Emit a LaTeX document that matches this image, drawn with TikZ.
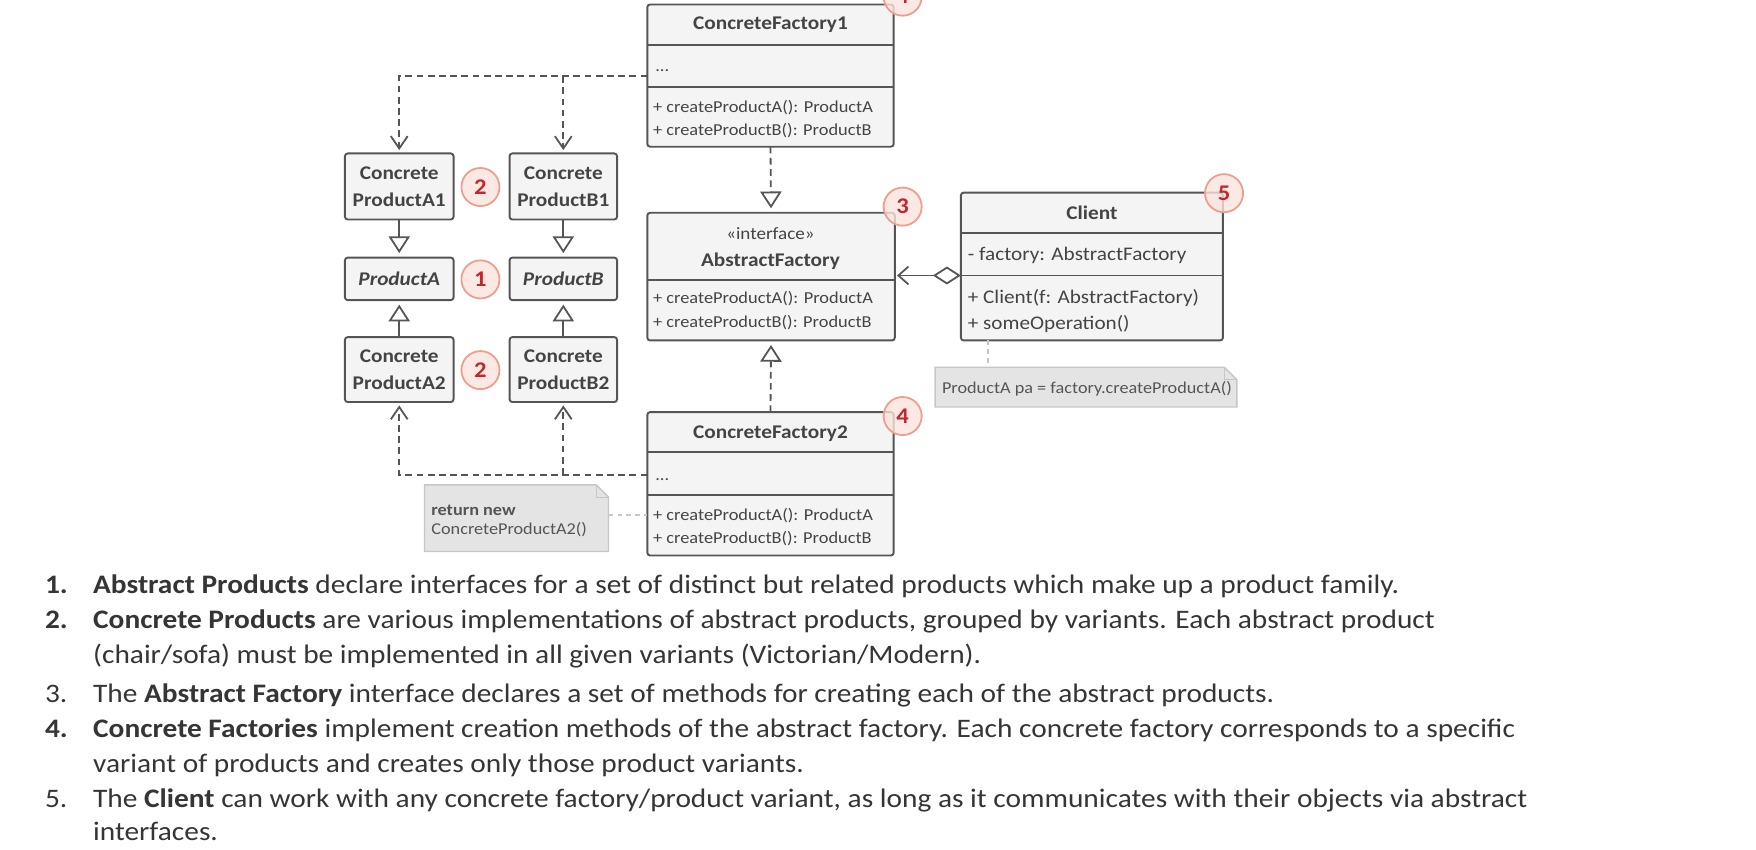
\documentclass[tikz,border=0pt]{standalone}
\usepackage{fontspec}
\setmainfont{Carlito}[FakeStretch=1.1]
\usetikzlibrary{arrows.meta}
\definecolor{boxline}{HTML}{555555}
\definecolor{boxfill}{HTML}{F4F4F4}
\definecolor{txt}{HTML}{444444}
\definecolor{listtxt}{HTML}{353535}
\definecolor{notefill}{HTML}{E4E4E4}
\definecolor{noteline}{HTML}{C6C6C6}
\definecolor{notetxt}{HTML}{555555}
\definecolor{badgefill}{HTML}{FBE3DC}
\definecolor{badgeline}{HTML}{EBA08F}
\definecolor{badgetxt}{HTML}{C0282D}
\begin{document}
\begin{tikzpicture}[x=1pt,y=-1pt,
  box/.style={draw=boxline, fill=boxfill, line width=1.7pt, rounded corners=2.5pt, inner sep=0pt, outer sep=0pt, anchor=north west, text=txt},
  sep/.style={draw=boxline, line width=1.7pt},
  ttl/.style={font=\fontsize{17.3}{24}\selectfont\bfseries, text=txt, inner sep=0pt},
  sub/.style={font=\fontsize{15.5}{18}\selectfont, text=txt, inner sep=0pt},
  mem/.style={font=\fontsize{14.9}{17}\selectfont, text=txt, inner sep=0pt, anchor=west},
  cmem/.style={mem, font=\fontsize{17.2}{19}\selectfont},
  badge/.style={circle, draw=badgeline, fill=badgefill, fill opacity=0.8, text opacity=1, line width=1.6pt, minimum size=34pt, inner sep=0pt, text=badgetxt, font=\fontsize{20}{20}\selectfont\bfseries},
  dep/.style={draw=boxline, line width=1.6pt, dash pattern=on 6pt off 4pt, shorten >=3pt, -{Straight Barb[length=11pt,width=15pt]}},
  inh/.style={draw=boxline, line width=1.6pt, shorten >=4pt, -{Triangle[open,length=15pt,width=19pt]}},
  impl/.style={inh, dash pattern=on 6pt off 4pt},
  agg/.style={draw=boxline, line width=1.6pt, {Diamond[open,length=25pt,width=16pt]}-{Straight Barb[length=9pt,width=16pt]}, shorten >=2pt},
  notebox/.style={draw=noteline, fill=notefill, line width=1.2pt},
  notelink/.style={draw=noteline, line width=1.5pt, dash pattern=on 4pt off 4pt},
  notetext/.style={font=\fontsize{14.8}{17}\selectfont, text=notetxt, inner sep=0pt, anchor=west},
  ltxt/.style={font=\fontsize{23.85}{28}\selectfont, text=listtxt, inner sep=0pt, anchor=mid west},
  lnum/.style={ltxt},
  bnum/.style={ltxt, font=\fontsize{23.85}{28}\selectfont\bfseries}
]
\useasboundingbox (0,0) rectangle (1568,759);

% ---------------- ConcreteFactory1
\node[box, minimum width=220pt, minimum height=127pt] (cf1) at (578,4) {};
\draw[sep] (cf1.west |- 0,40) -- (cf1.east |- 0,40);
\draw[sep] (cf1.west |- 0,78) -- (cf1.east |- 0,78);
\node[ttl] (cf1t) at (688,22) {ConcreteFactory1};
\node[mem, anchor=base west] (cf1dots) at (585,64) {...};
\node[mem] (cf1m1) at (583,96) {+ createProductA(): ProductA};
\node[mem] (cf1m2) at (583,117) {+ createProductB(): ProductB};
\coordinate (cf1d) at (578,68);

% ---------------- products
\node[box, ttl, align=center, minimum width=97pt, minimum height=59pt] (cpa1) at (308,137) {Concrete\\ProductA1};
\node[box, ttl, align=center, minimum width=96pt, minimum height=59pt] (cpb1) at (455,137) {Concrete\\ProductB1};
\node[box, ttl, minimum width=97pt, minimum height=38pt] (pa) at (308,230) {\itshape ProductA};
\node[box, ttl, minimum width=96pt, minimum height=38pt] (pb) at (455,230) {\itshape ProductB};
\node[box, ttl, align=center, minimum width=97pt, minimum height=58pt] (cpa2) at (308,301) {Concrete\\ProductA2};
\node[box, ttl, align=center, minimum width=96pt, minimum height=58pt] (cpb2) at (455,301) {Concrete\\ProductB2};

% ---------------- AbstractFactory
\node[box, minimum width=221pt, minimum height=114pt] (af) at (578,190) {};
\draw[sep] (af.west |- 0,250) -- (af.east |- 0,250);
\node[sub] (afs) at (688,209) {«interface»};
\node[ttl] (aft) at (688,233.5) {AbstractFactory};
\node[mem] (afm1) at (583,266.5) {+ createProductA(): ProductA};
\node[mem] (afm2) at (583,288) {+ createProductB(): ProductB};

% ---------------- ConcreteFactory2
\node[box, minimum width=220pt, minimum height=128pt] (cf2) at (578,368) {};
\draw[sep] (cf2.west |- 0,404) -- (cf2.east |- 0,404);
\draw[sep] (cf2.west |- 0,442) -- (cf2.east |- 0,442);
\node[ttl] (cf2t) at (688,387) {ConcreteFactory2};
\node[mem, anchor=base west] (cf2dots) at (585,429) {...};
\node[mem] (cf2m1) at (583,460) {+ createProductA(): ProductA};
\node[mem] (cf2m2) at (583,481) {+ createProductB(): ProductB};
\coordinate (cf2d) at (578,424);

% ---------------- Client
\node[box, minimum width=234pt, minimum height=132pt] (client) at (858,172) {};
\draw[sep] (client.west |- 0,208) -- (client.east |- 0,208);
\draw[sep] (client.west |- 0,246) -- (client.east |- 0,246);
\node[ttl] (clt) at (975,190) {Client};
\node[cmem] (cla) at (864,228) {- factory: AbstractFactory};
\node[cmem] (clm1) at (864,266) {+ Client(f: AbstractFactory)};
\node[cmem] (clm2) at (864,289) {+ someOperation()};
\coordinate (clsep) at (858,246);

% ---------------- notes
\node[minimum width=269pt, minimum height=35pt, inner sep=0pt, anchor=north west] (n1) at (835,328) {};
\draw[notebox] (n1.south west) -- (n1.north west) -- ([xshift=-11pt]n1.north east) -- ([yshift=-11pt]n1.north east) -- (n1.south east) -- cycle;
\draw[noteline, line width=1.2pt] ([xshift=-11pt]n1.north east) -- ([xshift=-11pt,yshift=-11pt]n1.north east) -- ([yshift=-11pt]n1.north east);
\node[notetext] (n1t) at (841,347) {ProductA pa = factory.createProductA()};

\node[minimum width=164pt, minimum height=59pt, inner sep=0pt, anchor=north west] (n2) at (379,433) {};
\draw[notebox] (n2.south west) -- (n2.north west) -- ([xshift=-11pt]n2.north east) -- ([yshift=-11pt]n2.north east) -- (n2.south east) -- cycle;
\draw[noteline, line width=1.2pt] ([xshift=-11pt]n2.north east) -- ([xshift=-11pt,yshift=-11pt]n2.north east) -- ([yshift=-11pt]n2.north east);
\node[notetext, font=\fontsize{14.8}{17}\selectfont\bfseries] (n2a) at (385,455.5) {return new};
\node[notetext] (n2b) at (385,473) {ConcreteProductA2()};

% ---------------- connectors
\draw[dep] (cf1d) -| (cpa1.north);
\draw[dep] (cpb1.north |- cf1d) -- (cpb1.north);
\draw[dep] (cf2d) -| (cpa2.south);
\draw[dep] (cpb2.south |- cf2d) -- (cpb2.south);
\draw[inh] (cpa1.south) -- (pa.north);
\draw[inh] (cpb1.south) -- (pb.north);
\draw[inh] (cpa2.north) -- (pa.south);
\draw[inh] (cpb2.north) -- (pb.south);
\draw[impl] (cf1.south) -- (af.north);
\draw[impl] (cf2.north) -- (af.south);
\draw[agg] (clsep) -- (af.east |- clsep);
\draw[notelink] ([xshift=24pt]client.south west) -- ([xshift=24pt]client.south west |- n1.north);
\draw[notelink] (n2.east |- cf2m1) -- (cf2.west |- cf2m1);

% ---------------- badges
\node[badge] (b4a) at (806,-3) {4};
\node[badge] (b2a) at (429,167) {2};
\node[badge] (b1) at (429,249.5) {1};
\node[badge] (b2b) at (429,330.5) {2};
\node[badge] (b3) at (806,184.5) {3};
\node[badge] (b4b) at (806,371.5) {4};
\node[badge] (b5) at (1093,172.5) {5};

% ---------------- list
\node[bnum] (l1n) at (40,528) {1.};
\node[ltxt] (l1) at (83,528) {\textbf{Abstract Products} declare interfaces for a set of distinct but related products which make up a product family.};
\node[bnum] (l2n) at (40,559) {2.};
\node[ltxt] (l2) at (83,559) {\textbf{Concrete Products} are various implementations of abstract products, grouped by variants. Each abstract product};
\node[ltxt] (l2b) at (83,590.5) {(chair/sofa) must be implemented in all given variants (Victorian/Modern).};
\node[lnum] (l3n) at (40,625) {3.};
\node[ltxt] (l3) at (83,625) {The \textbf{Abstract Factory} interface declares a set of methods for creating each of the abstract products.};
\node[bnum] (l4n) at (40,656.5) {4.};
\node[ltxt] (l4) at (83,656.5) {\textbf{Concrete Factories} implement creation methods of the abstract factory. Each concrete factory corresponds to a specific};
\node[ltxt] (l4b) at (83,687.5) {variant of products and creates only those product variants.};
\node[lnum] (l5n) at (40,719) {5.};
\node[ltxt] (l5) at (83,719) {The \textbf{Client} can work with any concrete factory/product variant, as long as it communicates with their objects via abstract};
\node[ltxt] (l5b) at (83,748) {interfaces.};
\end{tikzpicture}
\end{document}
